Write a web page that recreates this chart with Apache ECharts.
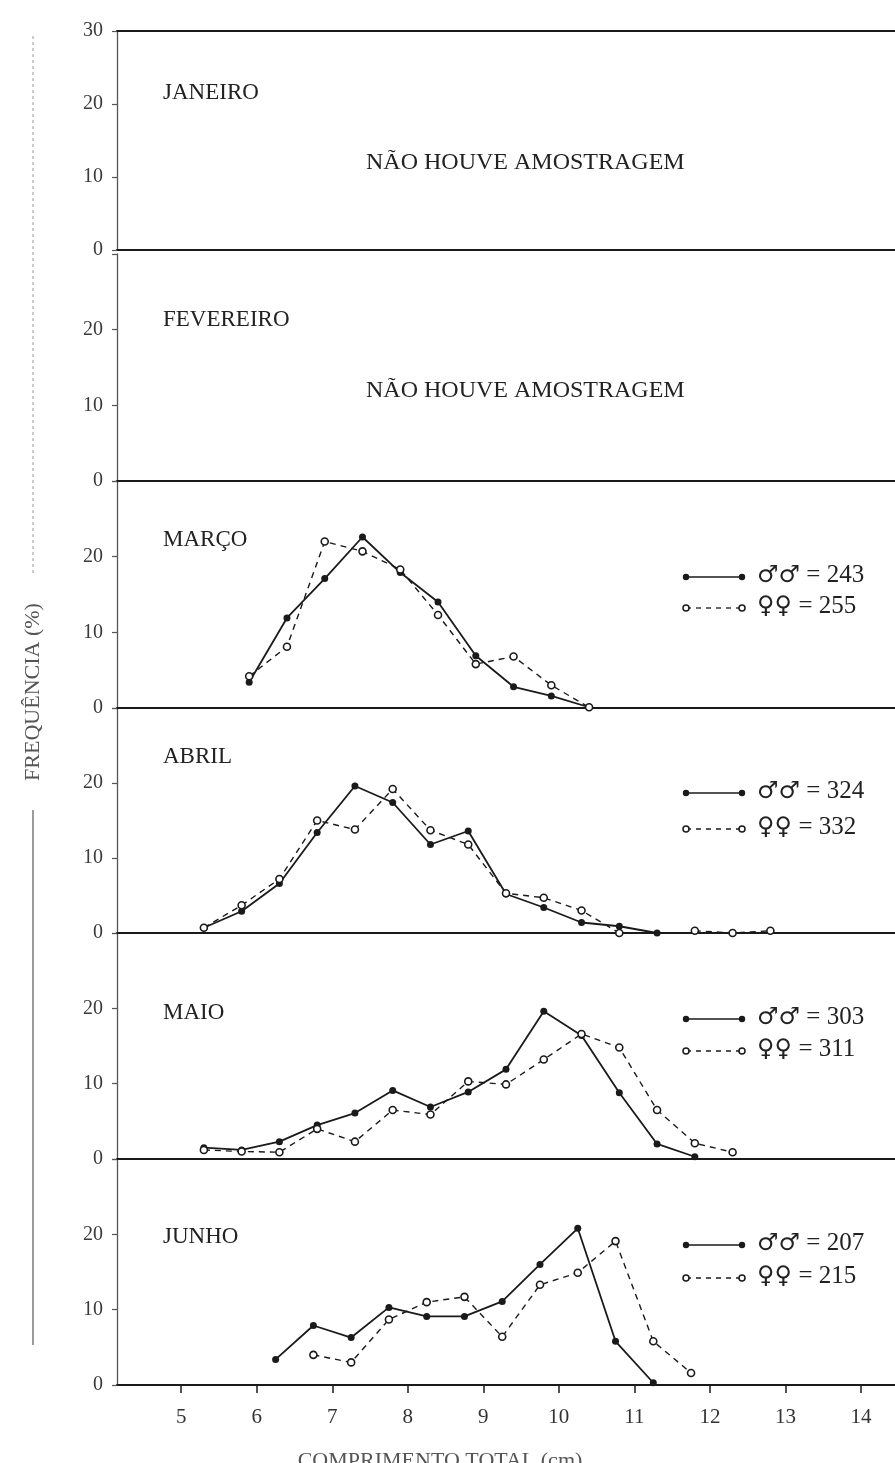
<!DOCTYPE html>
<html><head><meta charset="utf-8">
<script src="https://cdn.jsdelivr.net/npm/echarts@6/dist/echarts.min.js"></script>
<style>html,body{margin:0;padding:0;background:#fff}#c{width:895px;height:1463px}</style>
</head><body><div id="c"></div>
<script>
// ---- data ----
const months = ['JANEIRO', 'FEVEREIRO', 'MARÇO', 'ABRIL', 'MAIO', 'JUNHO'];
const noSampleText = 'NÃO HOUVE AMOSTRAGEM';
const xTicks = [5, 6, 7, 8, 9, 10, 11, 12, 13, 14];
const maleCounts = [null, null, 243, 324, 303, 207];
const femaleCounts = [null, null, 255, 332, 311, 215];
const yTitle = 'FREQUÊNCIA (%)';
const xTitle = 'COMPRIMENTO TOTAL (cm)';

const marX = [5.9, 6.4, 6.9, 7.4, 7.9, 8.4, 8.9, 9.4, 9.9, 10.4];
const marMale = [3.4, 11.9, 17.1, 22.6, 17.9, 14.0, 6.9, 2.8, 1.6, 0.1];
const marFemale = [4.2, 8.1, 22.0, 20.7, 18.3, 12.3, 5.8, 6.8, 3.0, 0.1];

const abrX = [5.3, 5.8, 6.3, 6.8, 7.3, 7.8, 8.3, 8.8, 9.3, 9.8, 10.3, 10.8, 11.3, 11.8, 12.3, 12.8];
const abrMale = [0.7, 2.9, 6.6, 13.4, 19.6, 17.4, 11.8, 13.6, 5.2, 3.4, 1.4, 0.9, 0.0, null, null, null];
const abrFemale = [0.7, 3.7, 7.2, 15.0, 13.8, 19.2, 13.7, 11.8, 5.3, 4.7, 3.0, 0.0, null, 0.3, 0.0, 0.3];

const maiX = [5.3, 5.8, 6.3, 6.8, 7.3, 7.8, 8.3, 8.8, 9.3, 9.8, 10.3, 10.8, 11.3, 11.8, 12.3];
const maiMale = [1.5, 1.2, 2.3, 4.5, 6.1, 9.1, 6.9, 8.9, 11.9, 19.6, 16.4, 8.8, 2.0, 0.3, null];
const maiFemale = [1.2, 1.0, 0.9, 4.0, 2.3, 6.5, 5.9, 10.3, 9.9, 13.2, 16.6, 14.8, 6.5, 2.1, 0.9];

const junX = [6.25, 6.75, 7.25, 7.75, 8.25, 8.75, 9.25, 9.75, 10.25, 10.75, 11.25, 11.75];
const junMale = [3.4, 7.9, 6.3, 10.3, 9.1, 9.1, 11.1, 16.0, 20.8, 5.8, 0.3, null];
const junFemale = [null, 4.0, 3.0, 8.7, 11.0, 11.7, 6.4, 13.3, 14.9, 19.1, 5.8, 1.6];

const panelData = [null, null,
  [marX, marMale, marFemale],
  [abrX, abrMale, abrFemale],
  [maiX, maiMale, maiFemale],
  [junX, junMale, junFemale]];

// ---- layout ----
const tops = [31, 254, 481, 708, 933, 1159];
const bases = [250, 481, 708, 933, 1159, 1385];
const LEFT = 117;
const INK = '#1a1a1a';
const SERIF = "'Liberation Serif', 'DejaVu Serif', serif";
const legendRows = [null, null, [577, 608], [793, 829], [1019, 1051], [1245, 1278]];
const titleY = [93, 320, 540, 757, 1013, 1237];

const grids = [], xAxes = [], yAxes = [], series = [], graphics = [];

months.forEach((m, i) => {
  grids.push({ left: LEFT, right: 0, top: tops[i], height: bases[i] - tops[i] });
  const isLast = i === months.length - 1;
  xAxes.push({
    type: 'value', gridIndex: i, min: 4.15, max: 14.45, position: 'bottom',
    axisLine: { show: true, onZero: false, lineStyle: { color: INK, width: 2 } },
    axisTick: { show: isLast, length: 8, inside: false, customValues: xTicks, lineStyle: { color: INK, width: 1.5 } },
    axisLabel: { show: isLast, customValues: xTicks, margin: 22, fontFamily: SERIF, fontSize: 21, color: '#333' },
    splitLine: { show: false }
  });
  yAxes.push({
    type: 'value', gridIndex: i, min: 0, max: 30, interval: 10,
    axisLine: { show: true, lineStyle: { color: '#555', width: 1.3 } },
    axisTick: { show: true, length: 5, lineStyle: { color: '#555', width: 1.2 } },
    axisLabel: {
      margin: 14, fontFamily: SERIF, fontSize: 20, color: '#3a3a3a',
      formatter: (v) => (v === 30 && i !== 0) ? '' : String(v)
    },
    splitLine: { show: false }
  });
  // panel title
  graphics.push({ type: 'text', left: 163, top: titleY[i] - 12,
    style: { text: m, font: '23px ' + SERIF, fill: '#222' } });
  if (!panelData[i]) {
    graphics.push({ type: 'text', left: 366, top: (i === 0 ? 164 : 392) - 13,
      style: { text: noSampleText, font: '24px ' + SERIF, fill: '#222' } });
    return;
  }
  const [xs, male, female] = panelData[i];
  series.push({
    type: 'line', xAxisIndex: i, yAxisIndex: i,
    data: xs.map((x, k) => [x, male[k]]),
    symbol: 'circle', symbolSize: 7, itemStyle: { color: INK },
    lineStyle: { color: INK, width: 1.8 }, connectNulls: false, silent: true
  });
  series.push({
    type: 'line', xAxisIndex: i, yAxisIndex: i,
    data: xs.map((x, k) => [x, female[k]]),
    symbol: 'circle', symbolSize: 7,
    itemStyle: { color: '#fff', borderColor: INK, borderWidth: 1.6 },
    lineStyle: { color: INK, width: 1.4, type: [6, 5] }, connectNulls: false, silent: true
  });
  // legend
  const [r1, r2] = legendRows[i];
  graphics.push({ type: 'line', shape: { x1: 686, y1: r1, x2: 742, y2: r1 }, style: { stroke: INK, lineWidth: 1.6 } });
  graphics.push({ type: 'circle', shape: { cx: 686, cy: r1, r: 3.2 }, style: { fill: INK } });
  graphics.push({ type: 'circle', shape: { cx: 742, cy: r1, r: 3.2 }, style: { fill: INK } });
  graphics.push({ type: 'line', shape: { x1: 686, y1: r2, x2: 742, y2: r2 }, style: { stroke: INK, lineWidth: 1.3, lineDash: [5, 5] } });
  graphics.push({ type: 'circle', shape: { cx: 686, cy: r2, r: 3 }, style: { fill: '#fff', stroke: INK, lineWidth: 1.5 } });
  graphics.push({ type: 'circle', shape: { cx: 742, cy: r2, r: 3 }, style: { fill: '#fff', stroke: INK, lineWidth: 1.5 } });
  const rich = {
    s: { fontFamily: "'DejaVu Sans', sans-serif", fontSize: 24, fill: '#222' },
    n: { fontFamily: SERIF, fontSize: 25, fill: '#222' }
  };
  graphics.push({ type: 'text', left: 757, top: r1 - 14,
    style: { text: '{s|♂♂}{n| = ' + maleCounts[i] + '}', rich: rich } });
  graphics.push({ type: 'text', left: 757, top: r2 - 14,
    style: { text: '{s|♀♀}{n| = ' + femaleCounts[i] + '}', rich: rich } });
});

// top border line of the first panel
xAxes.push({
  type: 'value', gridIndex: 0, min: 4.15, max: 14.45, position: 'top',
  axisLine: { show: true, onZero: false, lineStyle: { color: INK, width: 2 } },
  axisTick: { show: false }, axisLabel: { show: false }, splitLine: { show: false }
});

// y-axis title with rule line
graphics.push({ type: 'line', shape: { x1: 33, y1: 36, x2: 33, y2: 575 }, style: { stroke: '#999', lineWidth: 1, lineDash: [3, 3] } });
graphics.push({ type: 'line', shape: { x1: 33, y1: 810, x2: 33, y2: 1345 }, style: { stroke: '#666', lineWidth: 1.3 } });
graphics.push({ type: 'text', x: 33, y: 692, rotation: Math.PI / 2,
  style: { text: yTitle, font: '22px ' + SERIF, fill: '#555', align: 'center', verticalAlign: 'middle' } });
// x-axis title
graphics.push({ type: 'text', x: 440, y: 1461,
  style: { text: xTitle, font: '22px ' + SERIF, fill: '#555', align: 'center', verticalAlign: 'middle' } });

const chart = echarts.init(document.getElementById('c'), null, { renderer: 'canvas' });
chart.setOption({
  animation: false,
  backgroundColor: '#fff',
  grid: grids, xAxis: xAxes, yAxis: yAxes, series: series, graphic: graphics
});
</script></body></html>
